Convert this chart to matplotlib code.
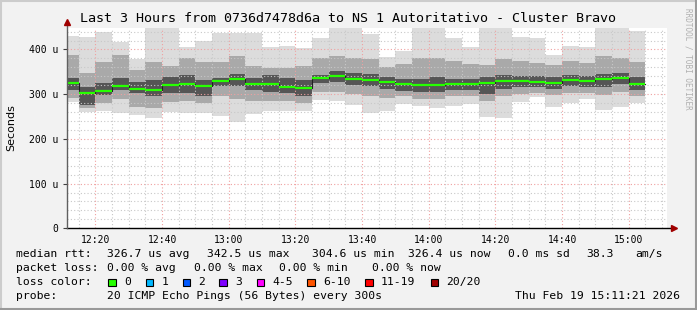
import numpy as np
import matplotlib
matplotlib.use("Agg")
import matplotlib.pyplot as plt

# 5 minute steps starting 12:10, values in microseconds
start_min = 12 * 60 + 10
step = 5

median = [325.7, 302.7, 307.8, 318.3, 312.3, 310.0, 321.0, 323.5, 318.3, 330.0,
          334.7, 323.5, 323.5, 316.8, 313.9, 336.0, 340.7, 334.7, 331.8, 328.0,
          323.5, 321.0, 321.0, 322.8, 322.8, 325.7, 330.0, 330.0, 328.0, 325.7,
          331.8, 330.0, 334.7, 337.0, 323.5]
smoke_max = [430, 427, 440, 417, 378, 449, 449, 406, 419, 436,
             438, 438, 406, 408, 404, 425, 447, 449, 434, 384,
             397, 447, 447, 426, 406, 449, 447, 429, 426, 388,
             408, 406, 449, 449, 441]
upper_mid = [388, 347, 373, 388, 354, 373, 362, 380, 373, 373,
             385, 362, 358, 358, 362, 380, 385, 380, 378, 360,
             368, 380, 380, 375, 368, 365, 378, 375, 370, 365,
             375, 370, 385, 380, 372]
upper_core = [336, 315, 324, 336, 328, 332, 339, 343, 332, 336,
              345, 336, 343, 336, 332, 343, 352, 348, 345, 338,
              335, 335, 338, 335, 333, 338, 342, 340, 340, 338,
              343, 340, 345, 348, 338]
lower_core = [309, 275, 298, 310, 302, 295, 302, 302, 295, 318,
              318, 310, 305, 302, 295, 325, 328, 320, 318, 312,
              308, 305, 305, 310, 310, 300, 312, 315, 315, 312,
              318, 315, 315, 322, 310]
lower_mid = [292, 268, 280, 290, 272, 270, 283, 285, 280, 295,
             290, 285, 285, 285, 280, 305, 305, 300, 295, 292,
             295, 290, 290, 295, 295, 285, 295, 300, 302, 298,
             302, 302, 298, 305, 295]
smoke_min = [282, 260, 262, 259, 253, 247, 261, 259, 257, 252,
             237, 255, 262, 262, 262, 287, 285, 276, 259, 262,
             277, 274, 270, 274, 277, 250, 247, 282, 294, 272,
             280, 289, 265, 272, 280]

y_ticks = [0, 100, 200, 300, 400]
y_labels = ["0", "100 u", "200 u", "300 u", "400 u"]
x_tick_times = ["12:20", "12:40", "13:00", "13:20", "13:40",
                "14:00", "14:20", "14:40", "15:00"]

loss_labels = ["0", "1", "2", "3", "4-5", "6-10", "11-19", "20/20"]
loss_colors = ["#26ff00", "#00b8ff", "#0059ff", "#7e00ff", "#ff00ff",
               "#ff5500", "#ff0000", "#a00000"]

W, H = 697, 310
fig = plt.figure(figsize=(W / 100, H / 100), dpi=100)
fig.patch.set_facecolor("#f2f2f2")


def fx(x):
    return x / W


def fy(y):
    return 1 - y / H


# plot area in pixels: x 66.6..666.6, y 28.3..228.3
ax = fig.add_axes([fx(66.6), fy(228.3), 600 / W, 200 / H])
ax.set_facecolor("white")

t_end = 15 * 60 + 11 + 21 / 60
ax.set_xlim(t_end - 180, t_end)
ax.set_ylim(0, 447.4)

starts = start_min + step * np.arange(len(median))
ax.bar(starts, np.subtract(smoke_max, smoke_min), bottom=smoke_min, width=step,
       align="edge", color="#dcdcdc", zorder=1)
ax.bar(starts, np.subtract(upper_mid, lower_mid), bottom=lower_mid, width=step,
       align="edge", color="#a9a9a9", zorder=2)
ax.bar(starts, np.subtract(upper_core, lower_core), bottom=lower_core, width=step,
       align="edge", color="#555555", zorder=3)

# grid
grid_dash = (0, (1, 2))
for v in range(20, 447, 20):
    major = v % 100 == 0
    ax.axhline(v, color="#f0a0a0" if major else "#c8c8c8", lw=0.8,
               ls=grid_dash, zorder=4)
for m in range(start_min, int(t_end) + 1, 5):
    major = (m - 12 * 60) % 20 == 0
    ax.axvline(m, color="#f0a0a0" if major else "#c8c8c8", lw=0.8,
               ls=grid_dash, zorder=4)

# median: dark step line plus loss colored segments
edges = np.append(starts, starts[-1] + step)
ax.step(edges, np.append(median, median[-1]), where="post", color="#202020",
        lw=0.8, zorder=5)
ax.hlines(median, starts, starts + step, color=loss_colors[0], lw=1.6, zorder=6)

for s in ax.spines.values():
    s.set_visible(False)

ax.set_yticks(y_ticks)
ax.set_yticklabels(y_labels, family="DejaVu Sans Mono", fontsize=7)
x_ticks = [int(t[:2]) * 60 + int(t[3:]) for t in x_tick_times]
ax.set_xticks(x_ticks)
ax.set_xticklabels(x_tick_times, family="DejaVu Sans Mono", fontsize=7)
ax.tick_params(axis="both", length=3, width=0.8, color="#404040", pad=3,
               labelcolor="black")
ax.tick_params(axis="x", length=0, pad=5)

# axes with arrows
ax.plot([0, 1.008], [0, 0], transform=ax.transAxes, color="black", lw=1,
        clip_on=False, zorder=7)
ax.plot([0, 0], [0, 1.02], transform=ax.transAxes, color="#606060", lw=1,
        clip_on=False, zorder=7)
ax.plot([1.0115], [0], transform=ax.transAxes, marker=">", ms=4,
        color="#a00000", clip_on=False, zorder=8)
ax.plot([0], [1.03], transform=ax.transAxes, marker="^", ms=4,
        color="#a00000", clip_on=False, zorder=8)

mono = "DejaVu Sans Mono"
fig.text(fx(348), fy(19), "Last 3 Hours from 0736d7478d6a to NS 1 Autoritativo - Cluster Bravo",
         ha="center", va="center", family=mono, fontsize=9.6)
fig.text(fx(11), fy(128), "Seconds", rotation=90, ha="center", va="center",
         fontsize=8)
fig.text(fx(688), fy(8), "RRDTOOL / TOBI OETIKER", rotation=270, ha="center",
         va="top", family=mono, fontsize=5.5, color="#b0b0b0")

lfs = 8.2
row1 = [(16, "median rtt:"), (107.3, "326.7 us avg"), (207.3, "342.5 us max"),
        (312.3, "304.6 us min"), (407.7, "326.4 us now"), (507.7, "0.0 ms sd"),
        (586.7, "38.3"), (635, "am/s")]
row2 = [(16, "packet loss:"), (107.3, "0.00 % avg"), (194, "0.00 % max"),
        (279.3, "0.00 % min"), (371.7, "0.00 % now")]
for x, s in row1:
    fig.text(fx(x), fy(254.3), s, ha="left", va="center", family=mono, fontsize=lfs)
for x, s in row2:
    fig.text(fx(x), fy(268.3), s, ha="left", va="center", family=mono, fontsize=lfs)

fig.text(fx(16), fy(282.3), "loss color:", ha="left", va="center", family=mono,
         fontsize=lfs)
box_x = [108.3, 145.7, 182.7, 219.3, 256.7, 307.3, 365, 430.7]
for bx, lab, col in zip(box_x, loss_labels, loss_colors):
    fig.patches.append(plt.Rectangle((fx(bx), fy(286)), 7.5 / W, 7.5 / H,
                                     transform=fig.transFigure, facecolor=col,
                                     edgecolor="black", lw=0.8))
    fig.text(fx(bx + 15.5), fy(282.3), lab, ha="left", va="center", family=mono,
             fontsize=lfs)

fig.text(fx(16), fy(295.7), "probe:", ha="left", va="center", family=mono, fontsize=lfs)
fig.text(fx(107.3), fy(295.7), "20 ICMP Echo Pings (56 Bytes) every 300s", ha="left",
         va="center", family=mono, fontsize=lfs)
fig.text(fx(680), fy(295.7), "Thu Feb 19 15:11:21 2026", ha="right", va="center",
         family=mono, fontsize=lfs)

# 3D style frame
fig.add_artist(plt.Line2D([0, 1], [fy(1), fy(1)], color="#cccccc", lw=1.5))
fig.add_artist(plt.Line2D([fx(1), fx(1)], [0, 1], color="#cccccc", lw=1.5))
fig.add_artist(plt.Line2D([0, 1], [fy(H - 1), fy(H - 1)], color="#999999", lw=1.5))
fig.add_artist(plt.Line2D([fx(W - 1), fx(W - 1)], [0, 1], color="#999999", lw=1.5))

fig.savefig("out.png", dpi=100, facecolor=fig.get_facecolor())
